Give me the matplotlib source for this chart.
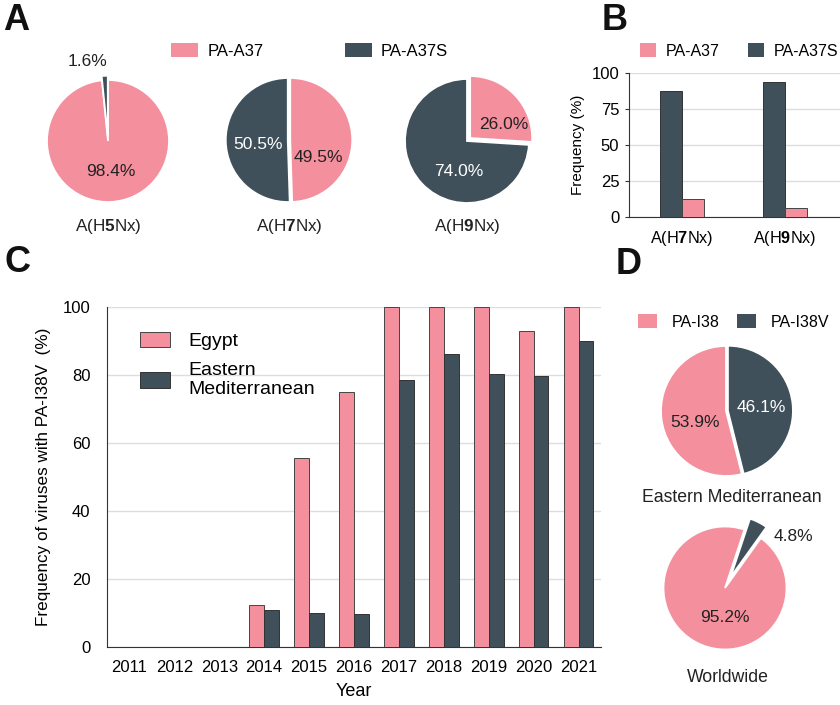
import matplotlib
matplotlib.use('Agg')
import matplotlib.pyplot as plt
from matplotlib.patches import Patch
import numpy as np

plt.rcParams['font.family'] = ['Liberation Sans', 'DejaVu Sans']
plt.rcParams['mathtext.fontset'] = 'custom'
plt.rcParams['mathtext.rm'] = 'Liberation Sans'
plt.rcParams['mathtext.bf'] = 'Liberation Sans:bold'

PINK = '#F48F9D'
DARK = '#3F505A'
GRID = '#DDDDDD'
TXT = '#222222'

## 데이터
# A: PA-A37 / PA-A37S
a_labels = ['A(H$\\mathbf{5}$Nx)', 'A(H$\\mathbf{7}$Nx)', 'A(H$\\mathbf{9}$Nx)']
a_pa37 = [98.4, 49.5, 26.0]
a_pa37s = [1.6, 50.5, 74.0]

# B
b_groups = ['A(H$\\mathbf{7}$Nx)', 'A(H$\\mathbf{9}$Nx)']
b_pa37 = [12.7, 6.0]
b_pa37s = [87.5, 93.8]

# C
years = ['2011', '2012', '2013', '2014', '2015', '2016', '2017', '2018', '2019', '2020', '2021']
egypt = [0, 0, 0, 12.5, 55.6, 75.0, 100, 100, 100, 92.9, 100]
east_med = [0, 0, 0, 11.0, 10.0, 9.8, 78.6, 86.3, 80.4, 79.7, 90.0]

# D
d_regions = ['Eastern Mediterranean', 'Worldwide']
d_i38 = [53.9, 95.2]
d_i38v = [46.1, 4.8]

W, H = 840, 705
fig = plt.figure(figsize=(W / 100, H / 100), dpi=100)


def px_axes(left, top, width, height):
    return fig.add_axes([left / W, 1 - (top + height) / H, width / W, height / H])


def pie_axes(cx, cy, r):
    ax = px_axes(cx - 1.3 * r, cy - 1.3 * r, 2.6 * r, 2.6 * r)
    ax.set_axis_off()
    return ax


def fix_pie(ax):
    ax.set_xlim(-1.3, 1.3)
    ax.set_ylim(-1.3, 1.3)
    ax.set_aspect('auto')


wp = dict(edgecolor='white', linewidth=1.3)

## 패널 A
a_centers = [(108, 141, 61), (289, 140, 62), (467, 141, 62)]
a_explode = [(0, 0.07), (0.02, 0.02), (0.07, 0)]
a_txtpos = [[(0.05, -0.5), (-0.33, 1.3)],
            [(0.48, -0.29), (-0.5, -0.08)],
            [(0.6, 0.26), (-0.13, -0.5)]]
for i in range(3):
    cx, cy, r = a_centers[i]
    ax = pie_axes(cx, cy, r)
    ax.pie([a_pa37[i], a_pa37s[i]], colors=[PINK, DARK], startangle=90,
           counterclock=False, explode=a_explode[i], wedgeprops=wp, radius=1)
    fix_pie(ax)
    p1, p2 = a_txtpos[i]
    ax.text(p1[0], p1[1], '%.1f%%' % a_pa37[i], ha='center', va='center',
            fontsize=12.5, color=TXT)
    ax.text(p2[0], p2[1], '%.1f%%' % a_pa37s[i], ha='center', va='center',
            fontsize=12.5, color='white' if i > 0 else TXT)
    fig.text(cx / W, 1 - 227 / H, a_labels[i], ha='center', va='center',
             fontsize=12.3, color=TXT)

leg_a = [Patch(facecolor=PINK, label='PA-A37'), Patch(facecolor=DARK, label='PA-A37S')]
fig.legend(handles=leg_a, loc='center left', bbox_to_anchor=(163 / W, 1 - 51 / H),
           ncol=2, frameon=False, fontsize=12, borderpad=0, handlelength=1.6,
           handleheight=0.9, handletextpad=0.55, columnspacing=4.9)

## 패널 B
axb = px_axes(629, 73, 211, 144)
xb = np.arange(len(b_groups))
bw = 0.21
axb.bar(xb - bw / 2, b_pa37s, bw, color=DARK, edgecolor='#333333', linewidth=0.7, zorder=3)
axb.bar(xb + bw / 2, b_pa37, bw, color=PINK, edgecolor='#444444', linewidth=0.7, zorder=3)
axb.set_xlim(-0.515, 1.535)
axb.set_ylim(0, 100)
axb.set_yticks([0, 25, 50, 75, 100])
axb.yaxis.grid(True, color=GRID, linewidth=1, zorder=0)
for s in ['top', 'right']:
    axb.spines[s].set_visible(False)
axb.spines['bottom'].set_color('#333333')
axb.spines['left'].set_color('#333333')
axb.tick_params(axis='y', length=3, color='#333333', labelsize=12, pad=4)
axb.tick_params(axis='x', length=0, labelsize=11.7, pad=9)
axb.set_xticks(xb)
axb.set_xticklabels(b_groups)
axb.set_ylabel('Frequency (%)', fontsize=11, labelpad=5)

leg_b = [Patch(facecolor=PINK, label='PA-A37'), Patch(facecolor=DARK, label='PA-A37S')]
fig.legend(handles=leg_b, loc='center left', bbox_to_anchor=(632 / W, 1 - 51 / H),
           ncol=2, frameon=False, fontsize=11.5, borderpad=0, handlelength=1.0,
           handleheight=0.9, handletextpad=0.6, columnspacing=1.8)

## 패널 C
axc = px_axes(107, 307, 494, 340)
xc = np.arange(len(years))
cw = 0.33
axc.bar(xc - cw / 2, egypt, cw, color=PINK, edgecolor='#444444', linewidth=0.7,
        zorder=3, label='Egypt')
axc.bar(xc + cw / 2, east_med, cw, color=DARK, edgecolor='#333333', linewidth=0.7,
        zorder=3, label='Eastern\nMediterranean')
axc.set_xlim(-0.5, len(years) - 0.5)
axc.set_ylim(0, 100)
axc.set_yticks([0, 20, 40, 60, 80, 100])
axc.yaxis.grid(True, color=GRID, linewidth=1, zorder=0)
for s in ['top', 'right']:
    axc.spines[s].set_visible(False)
axc.spines['left'].set_color('#333333')
axc.spines['bottom'].set_color('#333333')
axc.tick_params(axis='both', length=0, labelsize=12)
axc.tick_params(axis='y', pad=12)
axc.tick_params(axis='x', pad=9)
axc.set_xticks(xc)
axc.set_xticklabels(years)
axc.set_xlabel('Year', fontsize=13, labelpad=6)
axc.set_ylabel('Frequency of viruses with PA-I38V  (%)', fontsize=12.3, labelpad=8)
axc.legend(loc='upper left', bbox_to_anchor=(130 / W, 1 - 322 / H),
           bbox_transform=fig.transFigure, frameon=False, fontsize=14, borderpad=0,
           handlelength=1.55, handleheight=0.85, handletextpad=0.95, labelspacing=0.6)

## 패널 D
d_centers = [(726, 411, 65), (725, 588, 61.5)]
d_start = [90, 71.6]
d_explode = [(0.03, 0), (0.2, 0)]
d_txtpos = [[(0.55, 0.05), (-0.48, -0.17)],
            [(1.12, 0.83), (0.0, -0.48)]]
for i in range(2):
    cx, cy, r = d_centers[i]
    ax = pie_axes(cx, cy, r)
    ax.pie([d_i38v[i], d_i38[i]], colors=[DARK, PINK], startangle=d_start[i],
           counterclock=False, explode=d_explode[i], wedgeprops=wp, radius=1)
    fix_pie(ax)
    p1, p2 = d_txtpos[i]
    ax.text(p1[0], p1[1], '%.1f%%' % d_i38v[i], ha='center', va='center',
            fontsize=12.5, color='white' if i == 0 else TXT)
    ax.text(p2[0], p2[1], '%.1f%%' % d_i38[i], ha='center', va='center',
            fontsize=12.5, color=TXT)

fig.text(732 / W, 1 - 497 / H, d_regions[0], ha='center', va='center', fontsize=12.7, color=TXT)
fig.text(728 / W, 1 - 678 / H, d_regions[1], ha='center', va='center', fontsize=12.7, color=TXT)

leg_d = [Patch(facecolor=PINK, label='PA-I38'), Patch(facecolor=DARK, label='PA-I38V')]
fig.legend(handles=leg_d, loc='center left', bbox_to_anchor=(630 / W, 1 - 322 / H),
           ncol=2, frameon=False, fontsize=11.5, borderpad=0, handlelength=1.2,
           handleheight=0.9, handletextpad=0.9, columnspacing=1.1)

## 패널 문자
for lab, x, y in [('A', 3, 20), ('B', 602, 21), ('C', 4, 263), ('D', 616, 265)]:
    fig.text(x / W, 1 - y / H, lab, fontsize=26, fontweight='bold', ha='left', va='center',
             color='#111111')

plt.savefig('out.png', dpi=100)
